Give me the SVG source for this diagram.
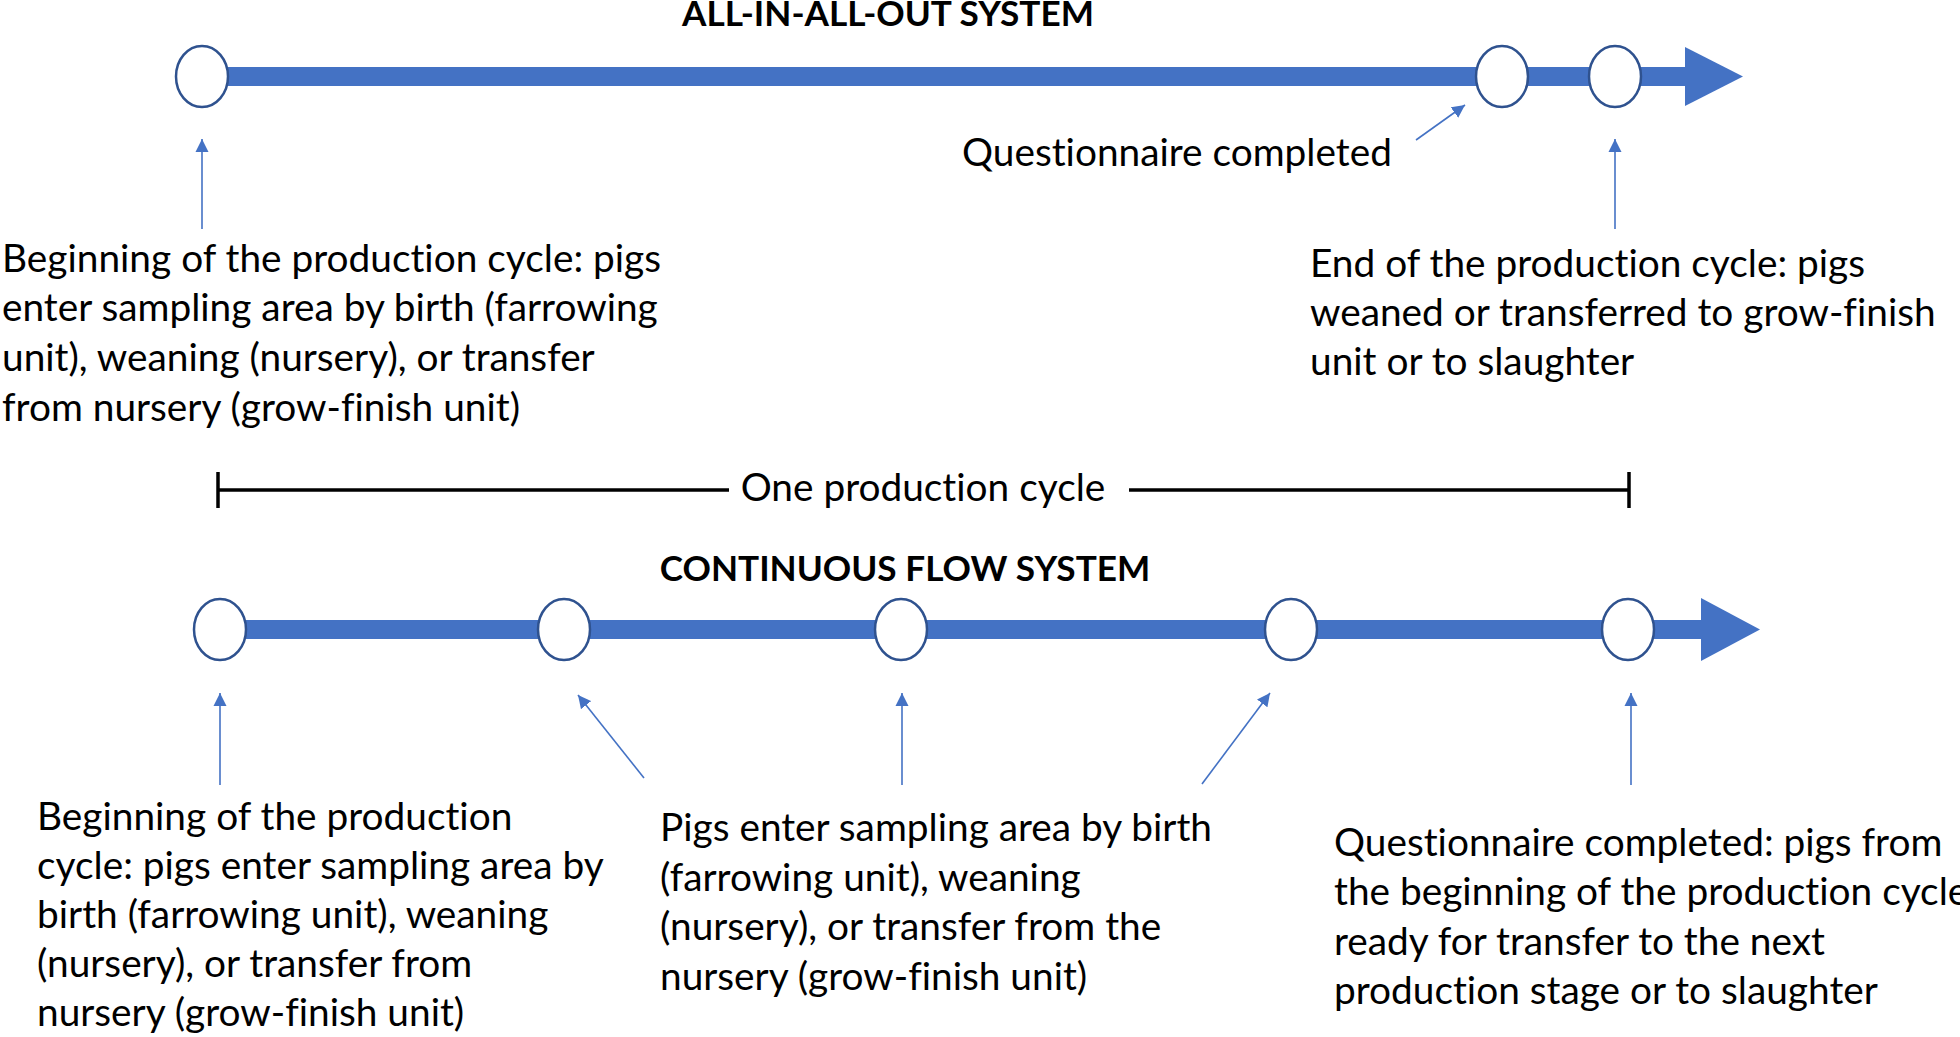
<svg xmlns="http://www.w3.org/2000/svg" width="1960" height="1037" viewBox="0 0 1960 1037">
<style>
.t{font-family:Lato,"Open Sans",sans-serif;font-size:38.8px;fill:#000;font-variant-ligatures:none}
.h{font-family:Lato,"Open Sans",sans-serif;font-size:35.2px;font-weight:bold;fill:#000}
.bar{fill:#4472C4}
.node{fill:#fff;stroke:#2F528F;stroke-width:2.5}
.ptr{stroke:#4472C4;stroke-width:1.6;fill:none;marker-end:url(#ah)}
.br{stroke:#000;stroke-width:3.5;fill:none}
</style>
<defs>
<marker id="ah" viewBox="0 0 10 10" refX="10" refY="5" markerUnits="userSpaceOnUse" markerWidth="13" markerHeight="14" orient="auto">
<path d="M0,0 L10,5 L0,10 Z" fill="#4472C4"/>
</marker>
</defs>
<rect width="1960" height="1037" fill="#fff"/>

<g id="timeline-allin">
<rect class="bar" x="228" y="67" width="1460" height="19"/>
<polygon class="bar" points="1685,47 1743,76.5 1685,106"/>
</g>
<g id="timeline-continuous">
<rect class="bar" x="246" y="620" width="1458" height="19"/>
<polygon class="bar" points="1701,598 1760,629.5 1701,661"/>
</g>

<g id="title-allin"><text class="h" x="888" y="26" text-anchor="middle">ALL-IN-ALL-OUT SYSTEM</text></g>
<g id="title-continuous"><text class="h" x="905" y="581" text-anchor="middle">CONTINUOUS FLOW SYSTEM</text></g>

<g id="a-start"><ellipse class="node" cx="202" cy="76.5" rx="26" ry="30.5"/></g>
<g id="a-questionnaire"><ellipse class="node" cx="1502" cy="76.5" rx="26" ry="30.5"/></g>
<g id="a-end"><ellipse class="node" cx="1615" cy="76.5" rx="26" ry="30.5"/></g>

<g id="c-1"><ellipse class="node" cx="220" cy="629.5" rx="26" ry="30.5"/></g>
<g id="c-2"><ellipse class="node" cx="564" cy="629.5" rx="26" ry="30.5"/></g>
<g id="c-3"><ellipse class="node" cx="901" cy="629.5" rx="26" ry="30.5"/></g>
<g id="c-4"><ellipse class="node" cx="1291" cy="629.5" rx="26" ry="30.5"/></g>
<g id="c-5"><ellipse class="node" cx="1628" cy="629.5" rx="26" ry="30.5"/></g>

<g id="connectors">
<line class="ptr" x1="202" y1="229" x2="202" y2="139"/>
<line class="ptr" x1="1416" y1="140" x2="1465" y2="105"/>
<line class="ptr" x1="1615" y1="229" x2="1615" y2="139"/>
<line class="ptr" x1="220" y1="785" x2="220" y2="693"/>
<line class="ptr" x1="644" y1="778" x2="578" y2="695"/>
<line class="ptr" x1="902" y1="785" x2="902" y2="693"/>
<line class="ptr" x1="1202" y1="784" x2="1270" y2="693"/>
<line class="ptr" x1="1631" y1="785" x2="1631" y2="693"/>
</g>

<g id="cycle-bracket">
<line class="br" x1="218" y1="490" x2="729" y2="490"/>
<line class="br" x1="1129" y1="490" x2="1629" y2="490"/>
<line class="br" x1="218" y1="472" x2="218" y2="508"/>
<line class="br" x1="1629" y1="472" x2="1629" y2="508"/>
<text class="t" x="923" y="501" text-anchor="middle">One production cycle</text>
</g>

<g id="label-a-start">
<text class="t" x="2" y="272">Beginning of the production cycle: pigs</text>
<text class="t" x="2" y="321">enter sampling area by birth (farrowing</text>
<text class="t" x="2" y="371">unit), weaning (nursery), or transfer</text>
<text class="t" x="2" y="421">from nursery (grow-finish unit)</text>
</g>
<g id="label-a-questionnaire">
<text class="t" x="962" y="166">Questionnaire completed</text>
</g>
<g id="label-a-end">
<text class="t" x="1310" y="277">End of the production cycle: pigs</text>
<text class="t" x="1310" y="326">weaned or transferred to grow-finish</text>
<text class="t" x="1310" y="375">unit or to slaughter</text>
</g>

<g id="label-c-start">
<text class="t" x="37" y="830">Beginning of the production</text>
<text class="t" x="37" y="879">cycle: pigs enter sampling area by</text>
<text class="t" x="37" y="928">birth (farrowing unit), weaning</text>
<text class="t" x="37" y="977">(nursery), or transfer from</text>
<text class="t" x="37" y="1026">nursery (grow-finish unit)</text>
</g>
<g id="label-c-mid">
<text class="t" x="660" y="841">Pigs enter sampling area by birth</text>
<text class="t" x="660" y="891">(farrowing unit), weaning</text>
<text class="t" x="660" y="940">(nursery), or transfer from the</text>
<text class="t" x="660" y="990">nursery (grow-finish unit)</text>
</g>
<g id="label-c-end">
<text class="t" x="1334" y="856">Questionnaire completed: pigs from</text>
<text class="t" x="1334" y="905">the beginning of the production cycle</text>
<text class="t" x="1334" y="955">ready for transfer to the next</text>
<text class="t" x="1334" y="1004">production stage or to slaughter</text>
</g>
</svg>
